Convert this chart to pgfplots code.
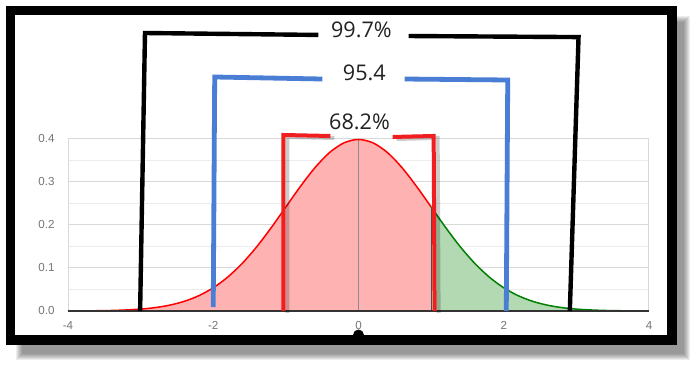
\documentclass[border=0pt]{standalone}
\usepackage{fontspec}
\setmainfont{Open Sans}
\newfontfamily\tickfont{Liberation Sans}
\usepackage{pgfplots}
\usepackage{pgfplotstable}
\pgfplotsset{compat=1.18}

\definecolor{bblue}{RGB}{74,126,212}
\definecolor{bred}{RGB}{240,30,30}
\definecolor{cgreen}{RGB}{0,128,0}
\definecolor{tickgray}{RGB}{117,117,117}
\definecolor{gridmaj}{RGB}{217,217,217}
\definecolor{gridmin}{RGB}{236,236,236}
\definecolor{labeltext}{RGB}{34,34,34}

\pgfplotstableread{
x y
-4 0.0001
-3.8 0.0003
-3.6 0.0006
-3.4 0.0012
-3.2 0.0024
-3 0.0044
-2.8 0.0079
-2.6 0.0136
-2.4 0.0224
-2.2 0.0355
-2 0.0540
-1.8 0.0790
-1.6 0.1109
-1.4 0.1497
-1.2 0.1942
-1 0.2420
-0.8 0.2897
-0.6 0.3332
-0.4 0.3683
-0.2 0.3910
0 0.3989
0.2 0.3910
0.4 0.3683
0.6 0.3332
0.8 0.2897
1 0.2420
}\redpart

\pgfplotstableread{
x y
1 0.2420
1.2 0.1942
1.4 0.1497
1.6 0.1109
1.8 0.0790
2 0.0540
2.2 0.0355
2.4 0.0224
2.6 0.0136
2.8 0.0079
3 0.0044
3.2 0.0024
3.4 0.0012
3.6 0.0006
3.8 0.0003
4 0.0001
}\greenpart

\begin{document}
\begin{tikzpicture}
\useasboundingbox (0,0) rectangle (347.5pt,182pt);
\begin{scope}[x=0.5pt,y=-0.5pt,yshift=182pt]
\foreach \k in {0,...,6} \fill[black,opacity=0.07] (16+\k,16+\k) rectangle (690-\k,360-\k);
\fill[white] (6,6) rectangle (677,345);
\end{scope}

\begin{axis}[at={(34pt,26.5pt)}, anchor=south west,
  width=290.5pt, height=86pt, scale only axis,
  xmin=-4, xmax=4, ymin=0, ymax=0.4, clip=false,
  axis line style={draw=none},
  xtick={-4,-2,0,2,4}, xticklabels={-4,-2,0,2,4},
  ytick={0,0.1,0.2,0.3,0.4}, yticklabels={0.0,0.1,0.2,0.3,0.4},
  minor ytick={0.05,0.15,0.25,0.35},
  ymajorgrids, yminorgrids,
  major grid style={gridmaj, line width=0.5pt},
  minor grid style={gridmin, line width=0.5pt},
  major tick length=0pt, minor tick length=0pt,
  tick label style={font=\tickfont\fontsize{5.8}{6}\selectfont, text=tickgray, inner sep=0pt},
  yticklabel style={anchor=east, xshift=-6.5pt},
  xticklabel style={anchor=north, yshift=-5pt},
]
\addplot[gridmaj, line width=0.5pt] coordinates {(-4,0) (-4,0.4)};
\addplot[gridmaj, line width=0.5pt] coordinates {(4,0) (4,0.4)};

\addplot[draw=none, fill=red!30, smooth] table[x=x,y=y] {\redpart} \closedcycle;
\addplot[draw=none, fill=cgreen!30, smooth] table[x=x,y=y] {\greenpart} \closedcycle;
\addplot[black!45, line width=0.5pt] coordinates {(0,0) (0,0.4)};
\addplot[black!70, line width=0.5pt] coordinates {(1,0) (1,0.242)};
\addplot[red, line width=0.75pt, smooth] table[x=x,y=y] {\redpart};
\addplot[cgreen, line width=0.75pt, smooth] table[x=x,y=y] {\greenpart};
\addplot[black!80, line width=1pt] coordinates {(-4,0) (4,0)};

% dot below axis
\addplot[only marks, mark=*, mark size=2.5pt, black] coordinates {(0,-0.0558)};

% brackets
\addplot[black, line width=2.2pt, line join=miter] coordinates {(-3.007,0) (-2.94,0.6465) (-0.552,0.642)};
\addplot[black, line width=2.2pt, line join=miter] coordinates {(0.69,0.6395) (3.03,0.637) (2.91,0)};

\addplot[bblue, line width=2.4pt, line join=miter] coordinates {(-2.0,0.0093) (-1.98,0.5442) (-0.497,0.5395)};
\addplot[bblue, line width=2.4pt, line join=miter] coordinates {(0.634,0.5395) (2.055,0.5372) (2.035,0)};

\addplot[black, opacity=0.2, line width=2pt, xshift=2pt, yshift=-1pt] coordinates {(-1.034,0) (-1.034,0.4093) (-0.386,0.407)};
\addplot[black, opacity=0.2, line width=2pt, xshift=2pt, yshift=-1pt] coordinates {(0.469,0.4047) (1.035,0.407) (1.048,0)};
\addplot[bred, line width=2pt, line join=miter] coordinates {(-1.034,0) (-1.034,0.4093) (-0.386,0.407)};
\addplot[bred, line width=2pt, line join=miter] coordinates {(0.469,0.4047) (1.035,0.407) (1.048,0)};

\node[font=\fontsize{10.8}{12}\selectfont, text=labeltext] at (axis cs:0.04,0.6535) {99.7\%};
\node[font=\fontsize{10.8}{12}\selectfont, text=labeltext] at (axis cs:0.08,0.5535) {95.4};
\node[font=\fontsize{10.8}{12}\selectfont, text=labeltext] at (axis cs:0.014,0.4407) {68.2\%};
\end{axis}

\begin{scope}[x=0.5pt,y=-0.5pt,yshift=182pt]
\draw[line width=4.75pt] (10.5,10.5) rectangle (672,340);
\end{scope}
\end{tikzpicture}
\end{document}
